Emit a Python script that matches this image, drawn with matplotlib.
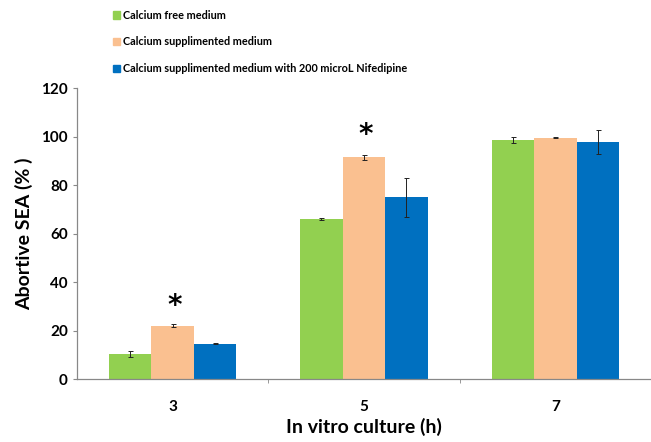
import matplotlib
matplotlib.use('Agg')
import matplotlib.pyplot as plt
from matplotlib.patches import Patch
import numpy as np

plt.rcParams['font.family'] = ['Lato', 'DejaVu Sans']

# data
hours = ['3', '5', '7']
series = ['Calcium free medium',
          'Calcium supplimented medium',
          'Calcium supplimented medium with 200 microL Nifedipine']
free_ca = [10.3, 65.9, 98.4]
free_ca_err = [1.2, 0.5, 1.2]
supp_ca = [21.9, 91.5, 99.4]
supp_ca_err = [0.6, 1.0, 0.2]
nifed = [14.6, 75.0, 97.7]
nifed_err = [0.3, 8.0, 5.1]
star_idx = [0, 1]
star_y = [30.0, 100.5]

colors = ['#92d050', '#fac090', '#0070c0']
values = [free_ca, supp_ca, nifed]
errors = [free_ca_err, supp_ca_err, nifed_err]

fig = plt.figure(figsize=(6.51, 4.42), dpi=100)
ax = fig.add_axes([0.118, 0.1425, 0.882, 0.6584])

x = np.arange(len(hours))
w = 0.222
for i in range(3):
    ax.bar(x + (i - 1) * w, values[i], w, color=colors[i],
           yerr=errors[i], capsize=1.8,
           error_kw=dict(elinewidth=0.7, capthick=0.7, ecolor='#222222'))

for k, yv in zip(star_idx, star_y):
    ax.text(x[k] + 0.01, yv, '*', ha='center', va='center',
            fontsize=20, fontweight='black', family='DejaVu Sans')

ax.set_xlim(-0.5, 2.5)
ax.set_ylim(0, 120)
ax.set_yticks(np.arange(0, 121, 20))
ax.set_xticks(x)
ax.set_xticklabels(hours)
ax.set_xticks([0.5, 1.5], minor=True)
ax.tick_params(axis='x', which='major', length=0, pad=15, labelsize=11)
ax.tick_params(axis='x', which='minor', length=3, color='#888888')
ax.tick_params(axis='y', length=3, color='#888888', labelsize=11)
for lab in ax.get_xticklabels() + ax.get_yticklabels():
    lab.set_fontweight('bold')

for s in ['top', 'right']:
    ax.spines[s].set_visible(False)
for s in ['left', 'bottom']:
    ax.spines[s].set_color('#888888')
    ax.spines[s].set_linewidth(0.9)

ax.set_ylabel('Abortive SEA (% )', fontsize=14, fontweight='bold', labelpad=6)
ax.set_xlabel('In vitro culture (h)', fontsize=14, fontweight='bold', labelpad=3)

handles = [Patch(color=c) for c in colors]
fig.legend(handles, series, loc='upper left', bbox_to_anchor=(0.158, 1.0),
           frameon=False, prop={'weight': 'bold', 'size': 7.8},
           handlelength=0.7, handleheight=0.7, handletextpad=0.3,
           labelspacing=1.45)

fig.savefig('out.png', dpi=100)
